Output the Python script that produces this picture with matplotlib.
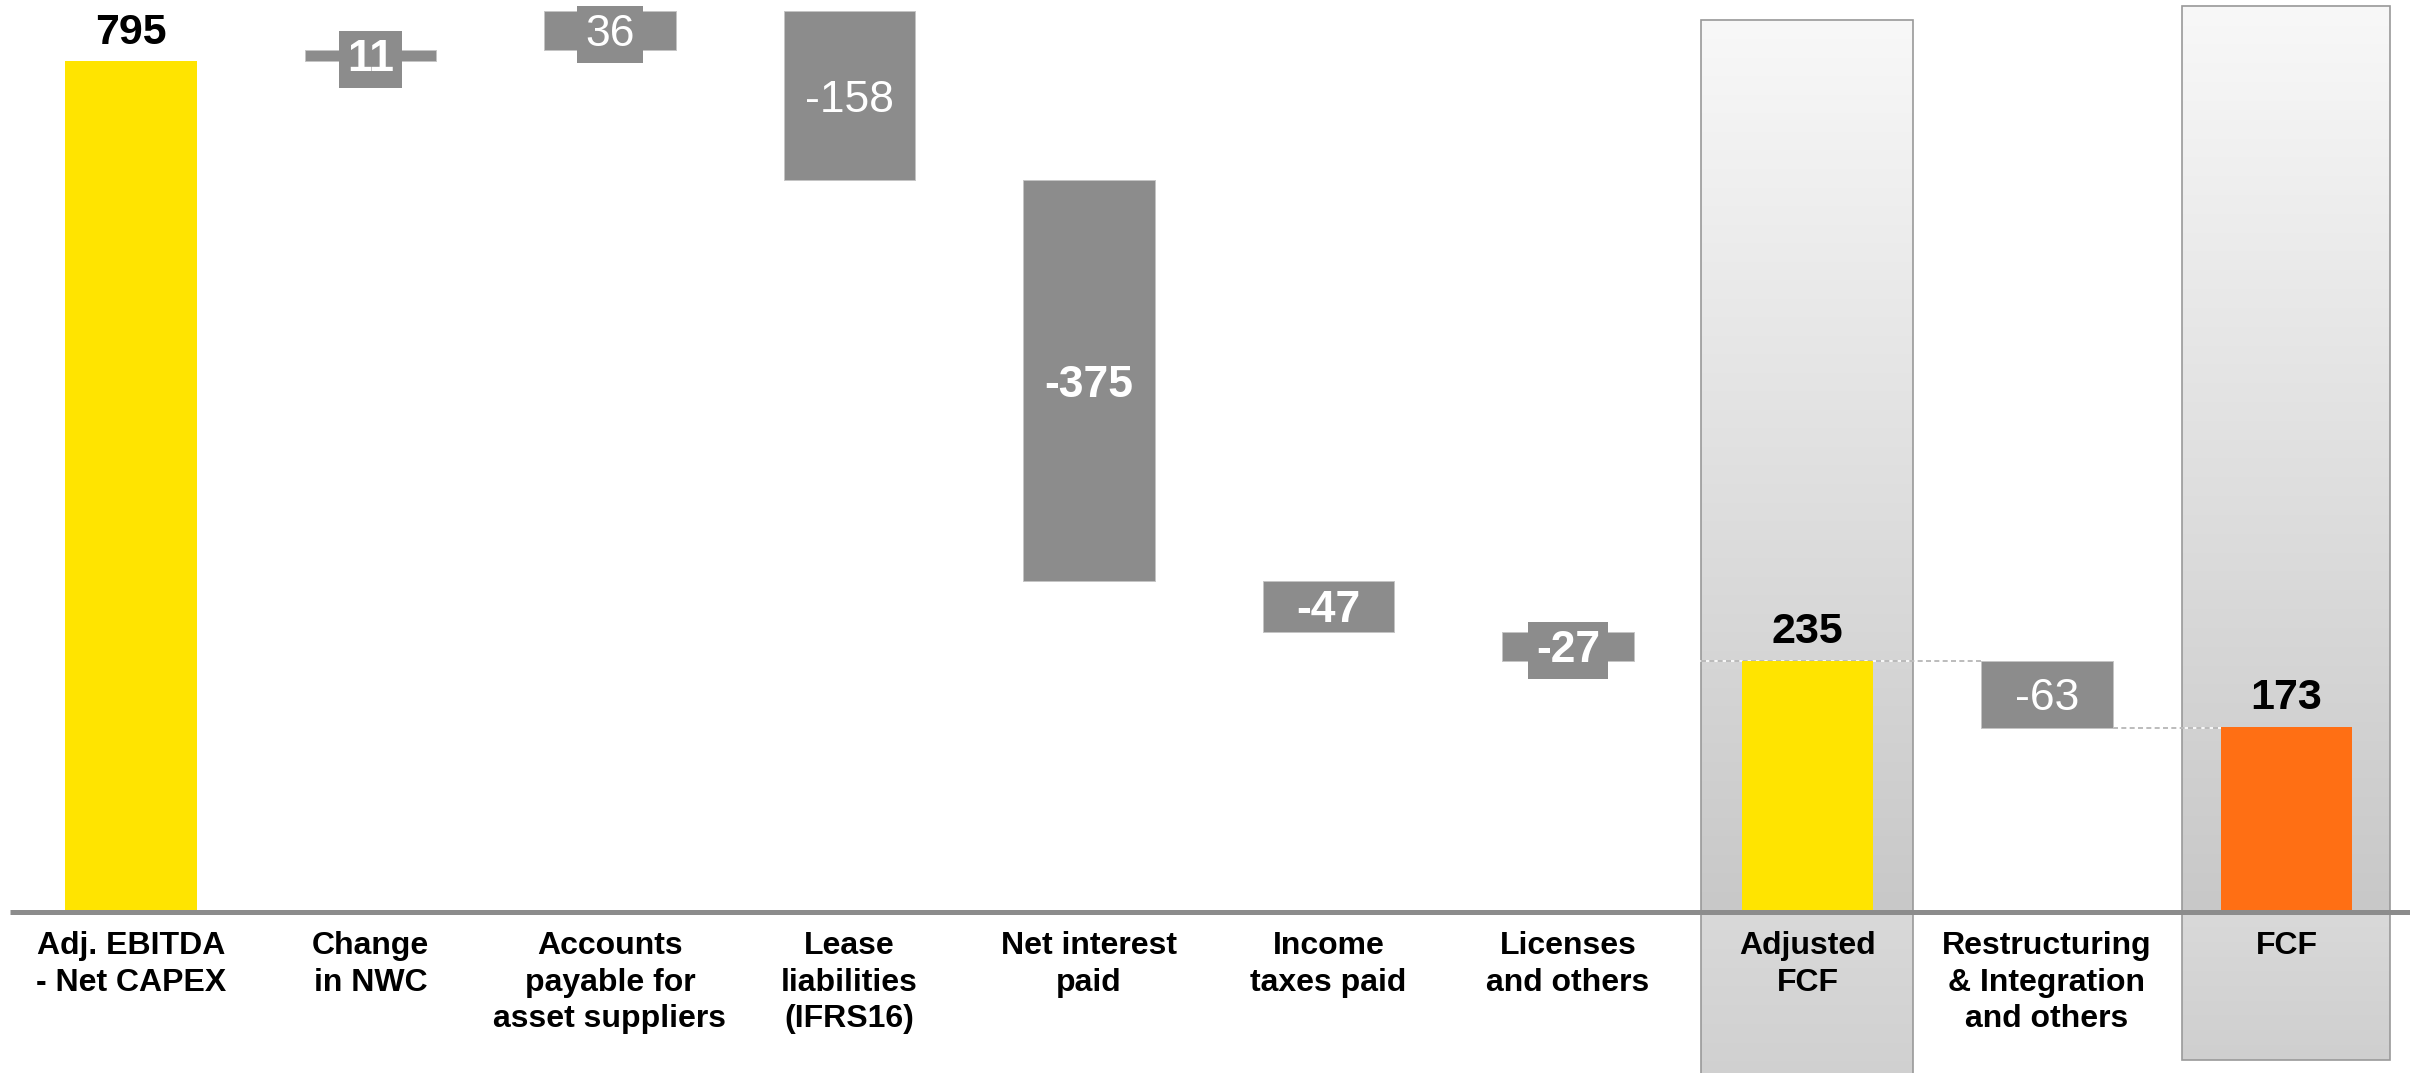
import matplotlib
matplotlib.use("Agg")
import matplotlib.pyplot as plt
import numpy as np
from matplotlib.patches import Rectangle
from matplotlib.colors import to_rgb

plt.rcParams["font.family"] = ["Liberation Sans", "DejaVu Sans"]

# ---- data -------------------------------------------------------------
categories = [
    "Adj. EBITDA\n- Net CAPEX",
    "Change\nin NWC",
    "Accounts\npayable for\nasset suppliers",
    "Lease\nliabilities\n(IFRS16)",
    "Net interest\npaid",
    "Income\ntaxes paid",
    "Licenses\nand others",
    "Adjusted\nFCF",
    "Restructuring\n& Integration\nand others",
    "FCF",
]
values = [795, 11, 36, -158, -375, -47, -27, 235, -63, 173]
kinds = ["total", "delta", "delta", "delta", "delta", "delta", "delta",
         "total", "delta", "total"]
value_labels = ["795", "11", "36", "-158", "-375", "-47", "-27", "235", "-63", "173"]
bold_labels = [True, True, False, False, True, True, True, True, False, True]
highlighted = ["Adjusted\nFCF", "FCF"]

# ---- style ------------------------------------------------------------
GRAY = "#8c8c8c"
YELLOW = "#ffe400"
ORANGE = "#ff6f14"
total_colors = {"Adj. EBITDA\n- Net CAPEX": YELLOW, "Adjusted\nFCF": YELLOW, "FCF": ORANGE}
BAR_W = 0.55

fig = plt.figure(figsize=(24.1, 10.73), dpi=100)
ax = fig.add_axes([0, 0, 1, 1])
ax.axis("off")

x = np.arange(len(categories))

# ---- highlight panels behind the totals -------------------------------
def vgrad(ax, x0, x1, y0, y1, c_top, c_bot, z):
    """Fill [x0,x1]x[y0,y1] with a vertical gradient, c_top at y1."""
    t = np.linspace(0, 1, 256)[:, None]
    a, b = np.array(to_rgb(c_top)), np.array(to_rgb(c_bot))
    img = (a * (1 - t) + b * t)[:, None, :].repeat(2, axis=1)
    ax.imshow(img, extent=(x0, x1, y0, y1), origin="upper", aspect="auto",
              zorder=z, interpolation="bilinear")

panel_spec = {"Adjusted\nFCF": (0.885, 834, -175), "FCF": (0.868, 847, -138)}
for name in highlighted:
    i = categories.index(name)
    w, top, bot = panel_spec[name]
    x0, x1 = i - w / 2, i + w / 2
    vgrad(ax, x0, x1, 0, top, "#f8f8f8", "#c8c8c8", 0.5)
    vgrad(ax, x0, x1, bot, 0, "#d9d9d9", "#cfcfcf", 0.5)
    ax.add_patch(Rectangle((x0, bot), w, top - bot, fill=False,
                           ec="#999999", lw=1.2, zorder=0.6))

# ---- waterfall bars ---------------------------------------------------
running = 0.0
bottoms, tops = [], []
for i, (cat, v, k) in enumerate(zip(categories, values, kinds)):
    if k == "total":
        b, h = 0.0, v
        running = v
        color = total_colors[cat]
        ec = "none"
    else:
        b, h = running, v
        running += v
        color = GRAY
        ec = "#c4c4c4"
    ax.bar(x[i], h, bottom=b, width=BAR_W, color=color, edgecolor=ec,
           linewidth=0.7, zorder=2)
    bottoms.append(min(b, b + h))
    tops.append(max(b, b + h))

# dashed connectors around the restructuring step
i_adj = categories.index("Adjusted\nFCF")
i_rst = i_adj + 1
i_fcf = categories.index("FCF")
lvl1 = values[i_adj]
lvl2 = values[i_adj] + values[i_rst]
for (xa, xb, yy) in [(i_adj - panel_spec["Adjusted\nFCF"][0] / 2, i_rst - BAR_W / 2, lvl1),
                     (i_rst + BAR_W / 2, i_fcf - BAR_W / 2, lvl2)]:
    ax.plot([xa, xb], [yy, yy], color="white", lw=1.2, zorder=1.5)
    ax.plot([xa, xb], [yy, yy], color="#b0b0b0", lw=1.2, ls=(0, (3, 2)), zorder=1.6)

# baseline
ax.plot([-0.505, 9.516], [0, 0], color=GRAY, lw=3.6, zorder=3, solid_capstyle="butt")

# ---- value labels -----------------------------------------------------
for i, (v, k, lab, bd) in enumerate(zip(values, kinds, value_labels, bold_labels)):
    if k == "total":
        ax.text(x[i], tops[i] + 8, lab, ha="center", va="bottom", fontsize=31,
                fontweight="bold", color="black", zorder=4)
    else:
        mid = (bottoms[i] + tops[i]) / 2
        kw = {}
        if abs(v) < 40:
            kw["bbox"] = dict(boxstyle="square,pad=0.18", fc=GRAY, ec="none")
        ax.text(x[i], mid, lab, ha="center", va="center_baseline", fontsize=32,
                fontweight="bold" if bd else "normal", color="white", zorder=4, **kw)

# ---- category labels --------------------------------------------------
for i, cat in enumerate(categories):
    ax.text(x[i], -18, cat, ha="center", va="top", fontsize=23, fontweight="bold",
            color="black", linespacing=1.28, zorder=4)

ax.set_xlim(-0.547, 9.516)
ax.set_ylim(-150.5, 852.3)

fig.savefig("out.png", dpi=100)
